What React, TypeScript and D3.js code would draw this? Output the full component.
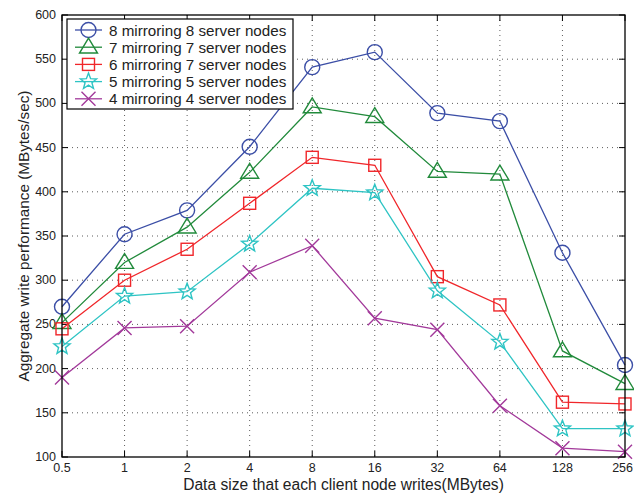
import React, { useEffect, useRef } from "react";
import * as d3 from "d3";

const categories = ["0.5", "1", "2", "4", "8", "16", "32", "64", "128", "256"];
const yTicks = [100, 150, 200, 250, 300, 350, 400, 450, 500, 550, 600];
const seriesNames = [
  "8 mirroring 8 server nodes",
  "7 mirroring 7 server nodes",
  "6 mirroring 7 server nodes",
  "5 mirroring 5 server nodes",
  "4 mirroring 4 server nodes",
];
const s8 = [270, 352, 379, 451, 541, 558, 489, 480, 331, 204];
const s7 = [252, 320, 360, 422, 496, 485, 423, 420, 220, 183];
const s6 = [245, 300, 335, 387, 439, 430, 304, 272, 162, 160];
const s5 = [225, 282, 287, 341, 404, 399, 288, 230, 132, 132];
const s4 = [190, 246, 248, 309, 339, 257, 244, 158, 110, 106];
const seriesValues = [s8, s7, s6, s5, s4];
const colors = ["#3b4ea6", "#218a3b", "#f0262a", "#2ec4c4", "#a2399a"];
const markers = ["circle", "triangle", "square", "star", "cross"];

const W = 634, H = 493;
const L = 62, R = 625, T = 15, B = 457;
const FONT = "'Liberation Sans', Arial, Helvetica, sans-serif";

function drawMarker(g: any, type: string, x: number, y: number, color: string) {
  const sw = 1.4;
  if (type === "circle") {
    g.append("circle").attr("cx", x).attr("cy", y).attr("r", 7.5)
      .attr("fill", "none").attr("stroke", color).attr("stroke-width", sw);
  } else if (type === "triangle") {
    const s = 9;
    g.append("path").attr("d", `M${x},${y - s}L${x + s},${y + s * 0.65}L${x - s},${y + s * 0.65}Z`)
      .attr("fill", "none").attr("stroke", color).attr("stroke-width", sw);
  } else if (type === "square") {
    const s = 6;
    g.append("rect").attr("x", x - s).attr("y", y - s).attr("width", 2 * s).attr("height", 2 * s)
      .attr("fill", "none").attr("stroke", color).attr("stroke-width", sw);
  } else if (type === "star") {
    const ro = 8.5, ri = 3.6;
    const pts: string[] = [];
    for (let i = 0; i < 10; i++) {
      const r = i % 2 === 0 ? ro : ri;
      const a = -Math.PI / 2 + (i * Math.PI) / 5;
      pts.push(`${x + r * Math.cos(a)},${y + r * Math.sin(a)}`);
    }
    g.append("path").attr("d", "M" + pts.join("L") + "Z")
      .attr("fill", "none").attr("stroke", color).attr("stroke-width", sw);
  } else {
    const s = 7;
    g.append("path").attr("d", `M${x - s},${y - s}L${x + s},${y + s}M${x - s},${y + s}L${x + s},${y - s}`)
      .attr("fill", "none").attr("stroke", color).attr("stroke-width", sw);
  }
}

export default function App() {
  const ref = useRef<SVGSVGElement>(null);
  useEffect(() => {
    const svg = d3.select(ref.current);
    svg.selectAll("*").remove();
    const x = d3.scalePoint<string>().domain(categories).range([L, R]).padding(0);
    const y = d3.scaleLinear().domain([100, 600]).range([B, T]);

    svg.append("rect").attr("width", W).attr("height", H).attr("fill", "#fff");

    // grid
    const grid = svg.append("g").attr("stroke", "#333").attr("stroke-width", 0.8)
      .attr("stroke-dasharray", "1,4");
    categories.slice(1, -1).forEach((c) => {
      grid.append("line").attr("x1", x(c)!).attr("x2", x(c)!).attr("y1", T).attr("y2", B);
    });
    yTicks.slice(1, -1).forEach((v) => {
      grid.append("line").attr("x1", L).attr("x2", R).attr("y1", y(v)).attr("y2", y(v));
    });

    // ticks (inward, all four sides)
    const ticks = svg.append("g").attr("stroke", "#000").attr("stroke-width", 1);
    categories.forEach((c) => {
      ticks.append("line").attr("x1", x(c)!).attr("x2", x(c)!).attr("y1", B).attr("y2", B - 6);
      ticks.append("line").attr("x1", x(c)!).attr("x2", x(c)!).attr("y1", T).attr("y2", T + 6);
    });
    yTicks.forEach((v) => {
      ticks.append("line").attr("x1", L).attr("x2", L + 6).attr("y1", y(v)).attr("y2", y(v));
      ticks.append("line").attr("x1", R).attr("x2", R - 6).attr("y1", y(v)).attr("y2", y(v));
    });

    // tick labels
    const tl = svg.append("g").attr("font-family", FONT).attr("font-size", 12.5).attr("fill", "#222");
    categories.forEach((c, i) => {
      const last = i === categories.length - 1;
      tl.append("text").attr("x", last ? 633 : x(c)!).attr("y", 471.5)
        .attr("text-anchor", last ? "end" : "middle").text(c);
    });
    yTicks.forEach((v) => {
      tl.append("text").attr("x", 56).attr("y", y(v) + 4).attr("text-anchor", "end").text(v);
    });

    // series
    const line = d3.line<number>().x((_, i) => x(categories[i])!).y((d) => y(d));
    seriesValues.forEach((vals, si) => {
      const g = svg.append("g");
      g.append("path").attr("d", line(vals)!).attr("fill", "none")
        .attr("stroke", colors[si]).attr("stroke-width", 1.3);
      vals.forEach((v, i) => drawMarker(g, markers[si], x(categories[i])!, y(v), colors[si]));
    });

    // axes box
    svg.append("rect").attr("x", L).attr("y", T).attr("width", R - L).attr("height", B - T)
      .attr("fill", "none").attr("stroke", "#000").attr("stroke-width", 1.3);

    // legend
    const lg = svg.append("g");
    lg.append("rect").attr("x", 67).attr("y", 19).attr("width", 226).attr("height", 90)
      .attr("fill", "#fff").attr("stroke", "#000").attr("stroke-width", 1.2);
    seriesNames.forEach((n, i) => {
      const yy = 30 + i * 17.2;
      lg.append("line").attr("x1", 75).attr("x2", 102).attr("y1", yy).attr("y2", yy)
        .attr("stroke", colors[i]).attr("stroke-width", 1.3);
      drawMarker(lg, markers[i], 88.5, yy, colors[i]);
      lg.append("text").attr("x", 109).attr("y", yy + 5.5).attr("font-family", FONT)
        .attr("font-size", 15.2).attr("fill", "#222").text(n);
    });

    // axis titles
    svg.append("text").attr("x", (L + R) / 2).attr("y", 489.8).attr("text-anchor", "middle")
      .attr("font-family", FONT).attr("font-size", 15.6).attr("fill", "#222")
      .text("Data size that each client node writes(MBytes)");
    svg.append("text").attr("transform", `translate(29,${(T + B) / 2}) rotate(-90)`)
      .attr("text-anchor", "middle").attr("font-family", FONT).attr("font-size", 15.3).attr("fill", "#222")
      .text("Aggregate write performance (MBytes/sec)");
  }, []);
  return (
    <svg ref={ref} width={W} height={H} style={{ position: "absolute", left: 0, top: 0, display: "block" }} />
  );
}
